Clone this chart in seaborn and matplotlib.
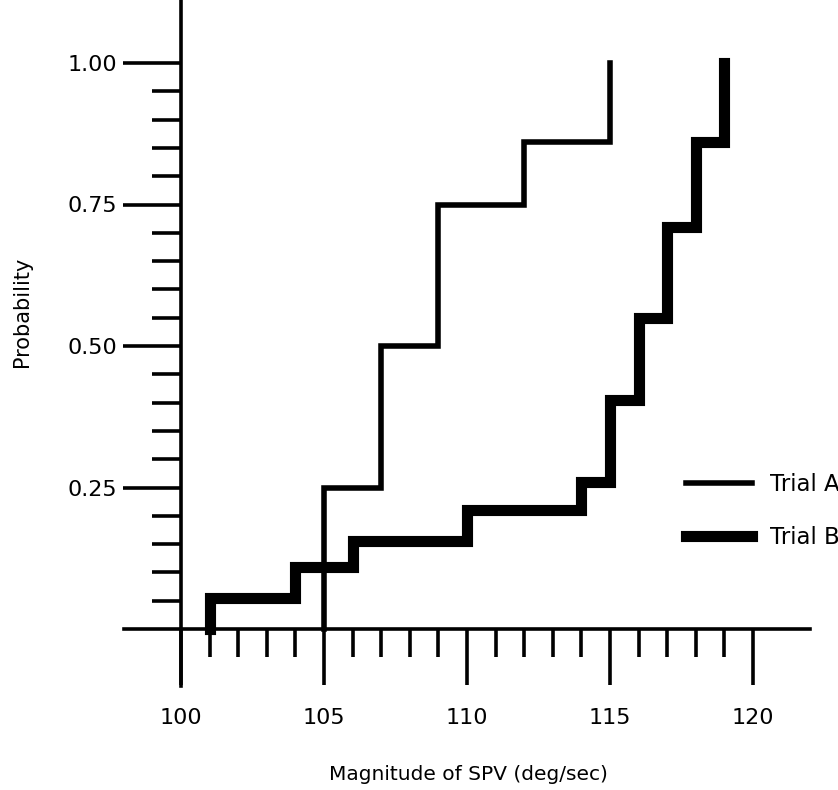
import numpy as np
import pandas as pd
import matplotlib
matplotlib.use("Agg")
import matplotlib.pyplot as plt
import seaborn as sns

# ---- data ----
trial_a_x = [105, 105, 107, 109, 112, 115]
trial_a_y = [0.0, 0.25, 0.50, 0.75, 0.86, 1.00]
trial_b_x = [101, 101, 104, 106, 110, 114, 115, 116, 117, 118, 119]
trial_b_y = [0.0, 0.055, 0.11, 0.155, 0.21, 0.26, 0.405, 0.55, 0.71, 0.86, 1.00]
series_names = ["Trial A", "Trial B"]
x_tick_labels = ["100", "105", "110", "115", "120"]
y_tick_labels = ["0.25", "0.50", "0.75", "1.00"]
x_label = "Magnitude of SPV (deg/sec)"
y_label = "Probability"

df = pd.concat([
    pd.DataFrame({"x": trial_a_x, "y": trial_a_y, "trial": series_names[0]}),
    pd.DataFrame({"x": trial_b_x, "y": trial_b_y, "trial": series_names[1]}),
], ignore_index=True)

sns.set_style("white")
plt.rcParams["font.family"] = ["DejaVu Sans"]

W, H = 838, 790
fig = plt.figure(figsize=(W / 100, H / 100), dpi=100)
ax = fig.add_axes([0, 0, 1, 1])
ax.patch.set_alpha(0)

sns.lineplot(data=df, x="x", y="y", hue="trial", size="trial",
             palette={"Trial A": "black", "Trial B": "black"},
             sizes={"Trial A": 4.0, "Trial B": 8.0},
             estimator=None, sort=False, drawstyle="steps-post",
             solid_capstyle="projecting", solid_joinstyle="miter",
             ax=ax, legend=True)

# pixel mapping: x=100 at px 181, 120 at px 753 ; y=0 at px 629, 1 at px 63
px_per_x = (753 - 181) / 20
px_per_y = (629 - 63)
ax.set_xlim(100 - 181 / px_per_x, 100 + (W - 181) / px_per_x)
ax.set_ylim(-(H - 629) / px_per_y, 629 / px_per_y)

for s in ["top", "right"]:
    ax.spines[s].set_visible(False)
ax.spines["left"].set_position(("data", 100))
ax.spines["bottom"].set_position(("data", 0))
ax.spines["left"].set_bounds(-0.1, 1.2)
ax.spines["bottom"].set_bounds(98, 122)
for s in ["left", "bottom"]:
    ax.spines[s].set_linewidth(2.6)
    ax.spines[s].set_color("black")

ax.set_xticks([100, 105, 110, 115, 120])
ax.set_xticklabels(x_tick_labels)
ax.set_xticks([v for v in range(101, 120) if v % 5 != 0], minor=True)
ax.set_yticks([0.25, 0.5, 0.75, 1.0])
ax.set_yticklabels(y_tick_labels)
ax.set_yticks([round(v * 0.05, 2) for v in range(1, 20) if v % 5 != 0], minor=True)

ax.tick_params(axis="x", which="major", direction="out", length=40, width=2.6,
               color="black", pad=17, labelsize=16, labelcolor="black", bottom=True)
ax.tick_params(axis="x", which="minor", direction="out", length=20, width=2.6,
               color="black", bottom=True)
ax.tick_params(axis="y", which="major", direction="out", length=42, width=2.6,
               color="black", pad=4, labelsize=16, labelcolor="black", left=True)
ax.tick_params(axis="y", which="minor", direction="out", length=21, width=2.6,
               color="black", left=True)

ax.set_xlabel(x_label, fontsize=14.5, color="black")
ax.xaxis.set_label_coords(468 / W, 1 - 765 / H)
ax.set_ylabel(y_label, fontsize=15, color="black")
ax.yaxis.set_label_coords(22 / W, 1 - 312 / H)
ax.yaxis.label.set_va("center")

handles, labels = ax.get_legend_handles_labels()
hl = dict(zip(labels, handles))
leg = ax.legend([hl[n] for n in series_names], series_names,
                loc="upper left", bbox_to_anchor=(686 / W, 1 - 473 / H),
                bbox_transform=ax.transAxes, frameon=False, fontsize=16.5,
                handlelength=2.9, handletextpad=0.75, labelspacing=1.3,
                borderpad=0, borderaxespad=0)
for t in leg.get_texts():
    t.set_color("black")

fig.savefig("out.png", dpi=100)
